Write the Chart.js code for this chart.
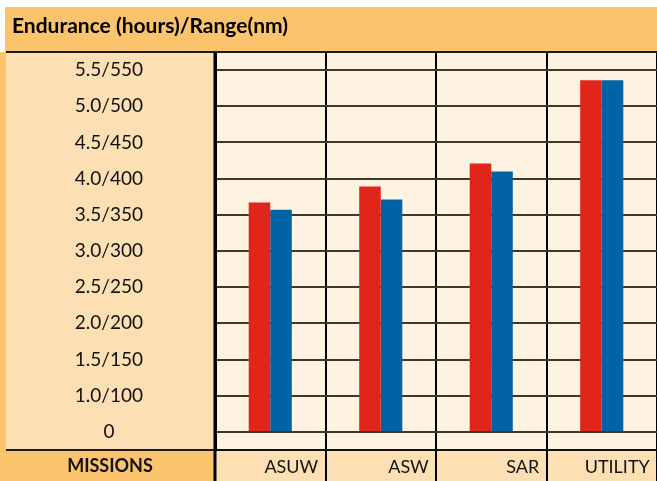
<!DOCTYPE html>
<html>
<head>
<meta charset="utf-8">
<script src="https://cdn.jsdelivr.net/npm/chart.js@4/dist/chart.umd.min.js"></script>
<style>
    html, body { margin: 0; padding: 0; background: #fff; }
</style>
</head>
<body>
<canvas id="myCanvas" width="657" height="481"></canvas>
<script>
var missions = ["ASUW", "ASW", "SAR", "UTILITY"];
// red = endurance, blue = range, both read against the nm side of the axis
var endurance = [367, 389, 421, 536];
var range = [357, 371, 410, 536];
var yTickValues = [0, 100, 150, 200, 250, 300, 350, 400, 450, 500, 550];
var yTickLabels = ["0", "1.0/100", "1.5/150", "2.0/200", "2.5/250", "3.0/300",
    "3.5/350", "4.0/400", "4.5/450", "5.0/500", "5.5/550"];

// the printed axis is evenly spaced by label, not by value (0 -> 100 is one step)
function stepPos(v) {
    for (var i = 1; i < yTickValues.length; i++) {
        if (v <= yTickValues[i]) {
            var lo = yTickValues[i - 1], hi = yTickValues[i];
            return i - 1 + (v - lo) / (hi - lo);
        }
    }
    return yTickValues.length - 1;
}

var backdrop = {
    id: 'backdrop',
    beforeDraw: function (chart) {
        var c = chart.ctx, a = chart.chartArea;
        c.save();
        c.fillStyle = '#fff';
        c.fillRect(0, 0, 657, 481);
        c.fillStyle = '#FBC36B';
        c.fillRect(5, 7, 652, 474);
        c.fillRect(0, a.top, 5, 481 - a.top);
        c.fillStyle = '#FDDFB4';
        c.fillRect(6, a.top, a.left - 6, a.bottom - a.top);
        c.fillRect(a.left, a.bottom, a.right - a.left, 481 - a.bottom);
        c.fillStyle = '#FEF2E1';
        c.fillRect(a.left, a.top, a.right - a.left, a.bottom - a.top);
        c.restore();
    },
    afterDraw: function (chart) {
        var c = chart.ctx, a = chart.chartArea;
        c.save();
        c.strokeStyle = '#1a1a1a';
        c.lineWidth = 2;
        c.beginPath();
        c.moveTo(6, a.top); c.lineTo(657, a.top);
        c.moveTo(6, a.bottom); c.lineTo(a.left, a.bottom);
        c.stroke();
        c.lineWidth = 3;
        c.strokeStyle = '#000';
        c.beginPath();
        c.moveTo(a.left, a.top); c.lineTo(a.left, 481);
        c.stroke();
        c.fillStyle = '#111';
        c.font = 'bold 18px Lato';
        c.textAlign = 'center';
        c.textBaseline = 'middle';
        c.fillText('MISSIONS', 110, 466);
        c.restore();
    }
};

new Chart(document.getElementById("myCanvas"), {
    type: 'bar',
    data: {
        labels: missions,
        datasets: [
            {
                label: "Endurance (hours)",
                backgroundColor: "#E1251A",
                data: endurance.map(stepPos)
            },
            {
                label: "Range (nm)",
                backgroundColor: "#0063A6",
                data: range.map(stepPos)
            }
        ]
    },
    options: {
        responsive: false,
        animation: false,
        layout: {padding: {top: 7, left: 12, right: 0, bottom: 0}},
        datasets: {bar: {categoryPercentage: 0.39, barPercentage: 1}},
        plugins: {
            legend: {display: false},
            tooltip: {enabled: false},
            title: {
                display: true,
                text: 'Endurance (hours)/Range(nm)',
                align: 'start',
                color: '#000',
                font: {family: 'Lato', size: 21, weight: 'bold'},
                padding: {top: 7, bottom: 12.8}
            }
        },
        scales: {
            x: {
                grid: {color: '#000', lineWidth: 2, offset: true, drawTicks: true, tickLength: 31, tickColor: '#000'},
                border: {display: true, color: '#111', width: 2},
                ticks: {color: '#111', font: {family: 'Lato', size: 18}, align: 'end', labelOffset: 48, padding: -25},
                afterFit: function (scale) {
                    scale.height = 31;
                    scale.paddingLeft = 0;
                    scale.paddingRight = 0;
                }
            },
            y: {
                min: -0.5,
                max: 10.5,
                grid: {color: '#3f3832', lineWidth: 2, drawTicks: false},
                border: {display: true, color: '#000', width: 3},
                afterBuildTicks: function (scale) {
                    scale.ticks = yTickLabels.map(function (t, i) { return {value: i}; });
                },
                ticks: {
                    color: '#111',
                    font: {family: 'Lato', size: 19},
                    crossAlign: 'center',
                    padding: 72,
                    callback: function (v) { return yTickLabels[v]; }
                },
                afterFit: function (scale) {
                    scale.width = 203;
                    scale.paddingTop = 0;
                    scale.paddingBottom = 0;
                }
            }
        }
    },
    plugins: [backdrop]
});
</script>
</body>
</html>
